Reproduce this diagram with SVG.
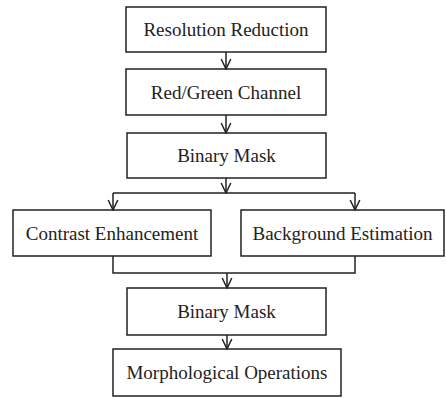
<svg xmlns="http://www.w3.org/2000/svg" width="446" height="398" viewBox="0 0 446 398">
<defs>
<marker id="arr" markerWidth="12" markerHeight="12" refX="11" refY="6" orient="auto" markerUnits="userSpaceOnUse" viewBox="0 0 12 12">
<path d="M1,1.2 L11,6 L1,10.8" fill="none" stroke="#222" stroke-width="1.5"/>
</marker>
</defs>
<style>
.b{fill:#fff;stroke:#222;stroke-width:1.5}
text{font-family:"Liberation Serif","Times New Roman",serif;font-size:19px;fill:#222;text-anchor:middle}
.c{fill:none;stroke:#222;stroke-width:1.5}
</style>
<rect width="446" height="398" fill="#fff"/>
<g id="n1"><rect class="b" x="126" y="7" width="200" height="45"/><text x="226" y="36">Resolution Reduction</text></g>
<g id="n2"><rect class="b" x="126" y="69" width="200" height="46"/><text x="226" y="98.5">Red/Green Channel</text></g>
<g id="n3"><rect class="b" x="127" y="133" width="199" height="45"/><text x="226.5" y="162">Binary Mask</text></g>
<g id="n4"><rect class="b" x="13" y="210" width="198" height="46"/><text x="112" y="239.5">Contrast Enhancement</text></g>
<g id="n5"><rect class="b" x="241" y="210" width="203" height="46"/><text x="342.5" y="239.5">Background Estimation</text></g>
<g id="n6"><rect class="b" x="127" y="288" width="199" height="47"/><text x="226.5" y="318">Binary Mask</text></g>
<g id="n7"><rect class="b" x="113" y="349" width="228" height="47"/><text x="227" y="379">Morphological Operations</text></g>
<g id="connectors">
<path class="c" d="M226,52 V69" marker-end="url(#arr)"/>
<path class="c" d="M226,115 V133" marker-end="url(#arr)"/>
<path class="c" d="M226,178 V193" marker-end="url(#arr)"/>
<path class="c" d="M113,193 H355"/>
<path class="c" d="M113,193 V210" marker-end="url(#arr)"/>
<path class="c" d="M355,193 V210" marker-end="url(#arr)"/>
<path class="c" d="M113,256 V273 H355 V256"/>
<path class="c" d="M227,273 V288" marker-end="url(#arr)"/>
<path class="c" d="M227,335 V349" marker-end="url(#arr)"/>
</g>
</svg>
